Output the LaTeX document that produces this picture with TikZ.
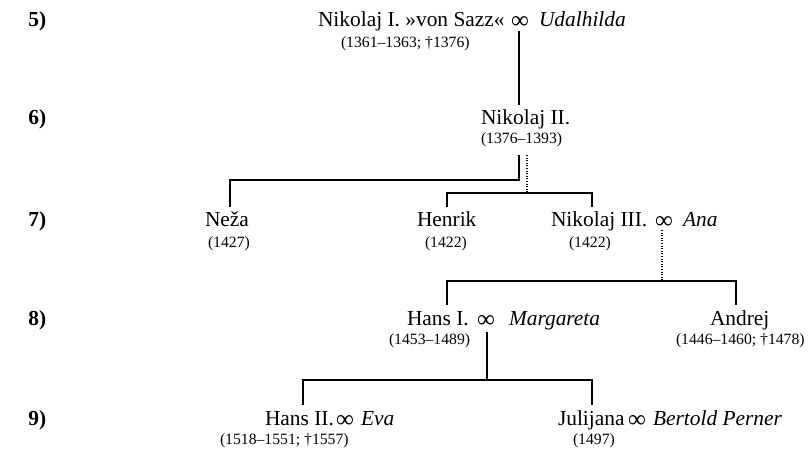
\documentclass[tikz,border=0pt]{standalone}
\usepackage{fontspec}
\setmainfont{Liberation Serif}
\begin{document}
\begin{tikzpicture}[x=0.5pt,y=-0.5pt,
  nm/.style={font=\fontsize{10.7}{13}\selectfont, anchor=base west, inner sep=0pt, outer sep=0pt},
  it/.style={nm, font=\fontsize{10.7}{13}\selectfont\itshape},
  inf/.style={nm, font=\fontsize{12.5}{13}\selectfont, yshift=-0.6pt},
  dt/.style={font=\fontsize{7.85}{9}\selectfont, anchor=base west, inner sep=0pt, outer sep=0pt},
  lbl/.style={font=\fontsize{10.7}{13}\selectfont\bfseries, anchor=base west, inner sep=0pt},
  solidline/.style={line width=1pt},
  dotline/.style={line width=0.6pt, dash pattern=on 0.5pt off 0.8pt}]
\useasboundingbox (0,0) rectangle (810,454);
% generation labels
\node[lbl] (g5) at (28,27) {5)};
\node[lbl] (g6) at (28,125) {6)};
\node[lbl] (g7) at (28,227) {7)};
\node[lbl] (g8) at (28,326) {8)};
\node[lbl] (g9) at (28,426) {9)};
% row 5
\node[nm] (n1) at (318,27) {Nikolaj I. »von Sazz«};
\node[inf] (m1) at (511,27) {∞};
\node[it] (w1) at (539,27) {Udalhilda};
\node[dt] (d1) at (341,48) {(1361–1363; †1376)};
% row 6
\node[nm] (n2) at (481,125) {Nikolaj II.};
\node[dt] (d2) at (481,144) {(1376–1393)};
% row 7
\node[nm] (neza) at (205,227) {Neža};
\node[dt] (dneza) at (208,248) {(1427)};
\node[nm] (henrik) at (417,227) {Henrik};
\node[dt] (dhenrik) at (425,248) {(1422)};
\node[nm] (n3) at (551,227) {Nikolaj III.};
\node[inf] (m3) at (655,227) {∞};
\node[it] (ana) at (683,227) {Ana};
\node[dt] (d3) at (569,248) {(1422)};
% row 8
\node[nm] (hans1) at (407,326) {Hans I.};
\node[inf] (m4) at (477,326) {∞};
\node[it] (marg) at (509,326) {Margareta};
\node[dt] (dhans1) at (389,345) {(1453–1489)};
\node[nm] (andrej) at (710,326) {Andrej};
\node[dt] (dandrej) at (676,345) {(1446–1460; †1478)};
% row 9
\node[nm] (hans2) at (265,426) {Hans II.};
\node[inf] (m5) at (336,426) {∞};
\node[it] (eva) at (361,426) {Eva};
\node[dt] (dhans2) at (220,445) {(1518–1551; †1557)};
\node[nm] (jul) at (558,426) {Julijana};
\node[inf] (m6) at (628,426) {∞};
\node[it] (bert) at (653,426) {Bertold Perner};
\node[dt] (djul) at (573,445) {(1497)};
% connector points
\coordinate (a1) at (519,31);
\coordinate (a2) at (519,105);
\coordinate (b1) at (519,155);
\coordinate (b2) at (519,180);
\coordinate (b3) at (230,180);
\coordinate (b4) at (230,207);
\coordinate (c1) at (527,155);
\coordinate (c2) at (527,193);
\coordinate (c3) at (447,193);
\coordinate (c4) at (592,193);
\coordinate (c5) at (447,207);
\coordinate (c6) at (592,207);
\coordinate (e1) at (662,230);
\coordinate (e2) at (662,281);
\coordinate (e3) at (447,281);
\coordinate (e4) at (736,281);
\coordinate (e5) at (447,305);
\coordinate (e6) at (736,305);
\coordinate (f1) at (487,332);
\coordinate (f2) at (487,380);
\coordinate (f3) at (303,380);
\coordinate (f4) at (592,380);
\coordinate (f5) at (303,405);
\coordinate (f6) at (592,405);
% connectors
\draw[solidline] (a1) -- (a2);
\draw[solidline] (b1) -- (b2) -- (b3) -- (b4);
\draw[dotline] (c1) -- (c2);
\draw[solidline] (c5) -- (c3) -- (c4) -- (c6);
\draw[dotline] (e1) -- (e2);
\draw[solidline] (e5) -- (e3) -- (e4) -- (e6);
\draw[solidline] (f1) -- (f2);
\draw[solidline] (f5) -- (f3) -- (f4) -- (f6);
\end{tikzpicture}
\end{document}
